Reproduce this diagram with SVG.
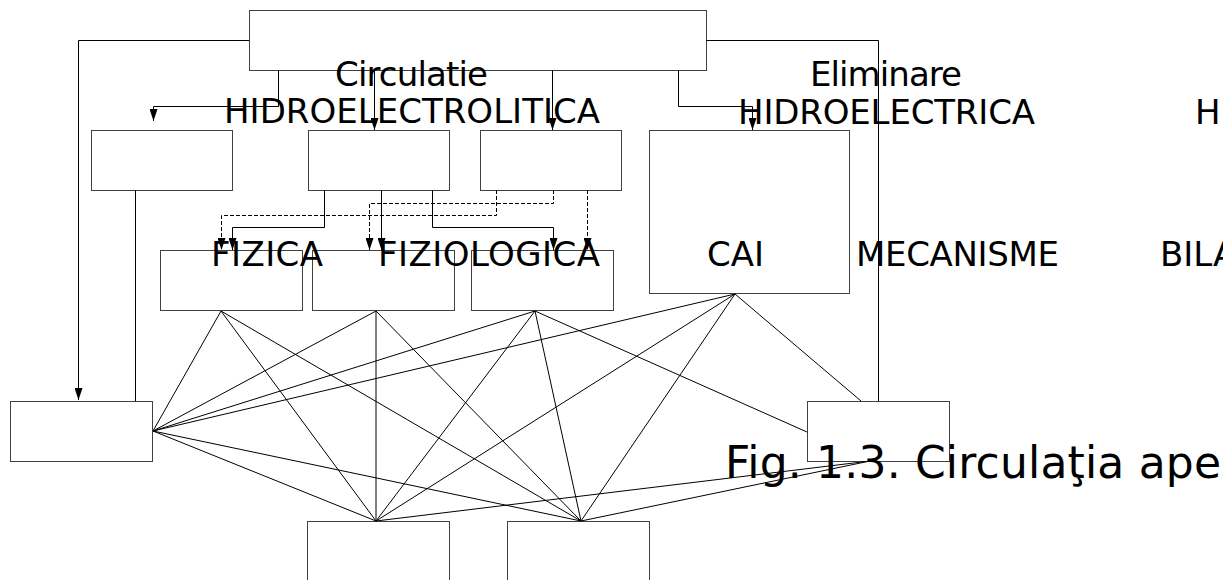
<svg xmlns="http://www.w3.org/2000/svg" width="1223" height="580" viewBox="0 0 1223 580">
  <defs>
    <marker id="arr" markerUnits="userSpaceOnUse" markerWidth="12" markerHeight="8" refX="12" refY="4" orient="auto">
      <path d="M0,0 L12,4 L0,8 z" fill="#000"/>
    </marker>
    <style>
      .box { fill: #fff; stroke: #404040; stroke-width: 1; }
      .ln { fill: none; stroke: #000; stroke-width: 1; }
      .dash { fill: none; stroke: #000; stroke-width: 1; stroke-dasharray: 4 2; }
      .t { font-family: "DejaVu Sans", Verdana, sans-serif; font-size: 34px; fill: #000; }
      .cap { font-family: "DejaVu Sans", Verdana, sans-serif; font-size: 44px; fill: #000; }
    </style>
  </defs>
  <rect width="1223" height="580" fill="#fff"/>

  <g id="node-top"><rect class="box" x="249.5" y="10.5" width="457" height="60"/></g>
  <g id="node-a"><rect class="box" x="91.5" y="130.5" width="141" height="60"/></g>
  <g id="node-b"><rect class="box" x="308.5" y="130.5" width="141" height="60"/></g>
  <g id="node-c"><rect class="box" x="480.5" y="130.5" width="141" height="60"/></g>
  <g id="node-d"><rect class="box" x="649.5" y="130.5" width="200" height="163"/></g>
  <g id="node-e"><rect class="box" x="160.5" y="250.5" width="142" height="60"/></g>
  <g id="node-f"><rect class="box" x="312.5" y="250.5" width="142" height="60"/></g>
  <g id="node-g"><rect class="box" x="471.5" y="250.5" width="142" height="60"/></g>
  <g id="node-l"><rect class="box" x="10.5" y="401.5" width="142" height="60"/></g>
  <g id="node-r"><rect class="box" x="807.5" y="401.5" width="142" height="60"/></g>
  <g id="node-p"><rect class="box" x="307.5" y="521.5" width="142" height="60"/></g>
  <g id="node-q"><rect class="box" x="507.5" y="521.5" width="142" height="60"/></g>

  <g id="connectors">
    <!-- from top box -->
    <polyline class="ln" points="249,40.5 78.5,40.5 78.5,400" marker-end="url(#arr)"/>
    <polyline class="ln" points="706,40.5 878.5,40.5 878.5,401"/>
    <polyline class="ln" points="278.5,70 278.5,106.5 153.5,106.5 153.5,121" marker-end="url(#arr)"/>
    <polyline class="ln" points="374.5,70 374.5,130" marker-end="url(#arr)"/>
    <polyline class="ln" points="552.5,70 552.5,130" marker-end="url(#arr)"/>
    <polyline class="ln" points="678.5,70 678.5,106.5 752.5,106.5 752.5,130" marker-end="url(#arr)"/>
    <line class="ln" x1="135.5" y1="190" x2="135.5" y2="401"/>
    <!-- from B (solid) -->
    <polyline class="ln" points="324.5,190 324.5,227.5 232.5,227.5 232.5,250" marker-end="url(#arr)"/>
    <polyline class="ln" points="381.5,190 381.5,250" marker-end="url(#arr)"/>
    <polyline class="ln" points="432.5,190 432.5,227.5 553.5,227.5 553.5,250" marker-end="url(#arr)"/>
    <!-- from C (dashed) -->
    <polyline class="dash" points="496.5,190 496.5,215.5 221.5,215.5 221.5,250" marker-end="url(#arr)"/>
    <polyline class="dash" points="553.5,190 553.5,203.5 369.5,203.5 369.5,250" marker-end="url(#arr)"/>
    <polyline class="dash" points="587.5,190 587.5,250" marker-end="url(#arr)"/>
    <!-- fan network -->
    <line class="ln" x1="221" y1="311" x2="153" y2="431"/>
    <line class="ln" x1="221" y1="311" x2="376" y2="521"/>
    <line class="ln" x1="221" y1="311" x2="581" y2="521"/>
    <line class="ln" x1="376" y1="311" x2="153" y2="431"/>
    <line class="ln" x1="376" y1="311" x2="376" y2="521"/>
    <line class="ln" x1="376" y1="311" x2="581" y2="521"/>
    <line class="ln" x1="535" y1="311" x2="153" y2="431"/>
    <line class="ln" x1="535" y1="311" x2="376" y2="521"/>
    <line class="ln" x1="535" y1="311" x2="581" y2="521"/>
    <line class="ln" x1="535" y1="311" x2="807" y2="432"/>
    <line class="ln" x1="735" y1="294" x2="153" y2="431"/>
    <line class="ln" x1="735" y1="294" x2="376" y2="521"/>
    <line class="ln" x1="735" y1="294" x2="581" y2="521"/>
    <line class="ln" x1="735" y1="294" x2="861" y2="401"/>
    <line class="ln" x1="153" y1="431" x2="376" y2="521"/>
    <line class="ln" x1="153" y1="431" x2="581" y2="521"/>
    <line class="ln" x1="870" y1="461" x2="376" y2="521"/>
    <line class="ln" x1="870" y1="461" x2="581" y2="521"/>
  </g>

  <g id="labels">
    <text class="t" x="335" y="86" textLength="153">Circulatie</text>
    <text class="t" x="224" y="123" textLength="376">HIDROELECTROLITICA</text>
    <text class="t" x="810" y="86" textLength="152">Eliminare</text>
    <text class="t" x="738" y="124" textLength="297">HIDROELECTRICA</text>
    <text class="t" x="1195" y="124">HI</text>
    <text class="t" x="211" y="266" textLength="112">FIZICA</text>
    <text class="t" x="378" y="266" textLength="222">FIZIOLOGICA</text>
    <text class="t" x="707" y="266" textLength="57">CAI</text>
    <text class="t" x="856" y="266" textLength="203">MECANISME</text>
    <text class="t" x="1160" y="266">BILA</text>
    <text class="cap" x="725" y="478" textLength="496">Fig. 1.3. Circulaţia ape</text>
  </g>
</svg>
